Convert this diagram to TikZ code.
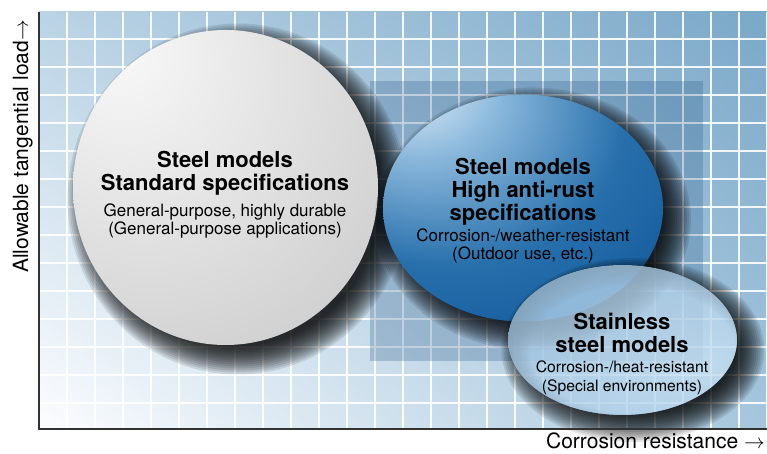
\documentclass[tikz,border=0pt]{standalone}
\usepackage{fontspec}
\setmainfont{TeX Gyre Heros}
\usepackage{tikz}
\usetikzlibrary{positioning, shadings}
\definecolor{bgul}{RGB}{186,211,229}
\definecolor{bgur}{RGB}{122,168,200}
\definecolor{bgll}{RGB}{252,253,255}
\definecolor{bglr}{RGB}{165,198,221}
\definecolor{boxblue}{RGB}{30,80,130}
\definecolor{axisgray}{RGB}{50,50,50}
\definecolor{gsA}{RGB}{250,250,250}
\definecolor{gsB}{RGB}{230,230,230}
\definecolor{gsC}{RGB}{200,200,200}
\definecolor{gsD}{RGB}{168,168,168}
\definecolor{bsA}{RGB}{242,247,252}
\definecolor{bsB}{RGB}{140,185,220}
\definecolor{bsC}{RGB}{40,112,172}
\definecolor{bsD}{RGB}{8,80,148}
\definecolor{bsE}{RGB}{0,66,130}
\definecolor{psA}{RGB}{198,223,241}
\definecolor{psB}{RGB}{172,205,231}
\definecolor{psC}{RGB}{112,163,204}
\pgfdeclareradialshading{graysphere}{\pgfpoint{-19bp}{24bp}}{color(0bp)=(gsA); color(20bp)=(gsB); color(50bp)=(gsC); color(85bp)=(gsD)}
\pgfdeclareradialshading{bluesphere}{\pgfpoint{-22bp}{30bp}}{color(0bp)=(bsA); color(14bp)=(bsB); color(32bp)=(bsC); color(54bp)=(bsD); color(90bp)=(bsE)}
\pgfdeclareradialshading{palesphere}{\pgfpoint{18bp}{-8bp}}{color(0bp)=(psA); color(30bp)=(psB); color(75bp)=(psC)}
\tikzset{
  gridline/.style={white, line width=1.2pt, opacity=0.9},
  shadebox/.style={fill=boxblue, fill opacity=0.25},
  shadowring/.style={black, fill opacity=0.1},
  axisline/.style={axisgray, line width=1.5pt},
  title/.style={font=\bfseries\fontsize{22}{23}\selectfont, align=center, inner sep=0pt},
  desc/.style={font=\fontsize{17}{18.5}\selectfont, align=center, inner sep=0pt},
  smalldesc/.style={font=\fontsize{15.7}{19}\selectfont, align=center, inner sep=0pt},
  axislabel/.style={font=\fontsize{21}{22}\selectfont, inner sep=0pt}
}
\begin{document}
\begin{tikzpicture}[x=1pt, y=1pt]
  \useasboundingbox (0,0) rectangle (767,454);

  % Background and grid
  \shade[upper left=bgul, upper right=bgur, lower left=bgll, lower right=bglr] (39,25) rectangle (767,442);
  \foreach \gx in {67,95,...,767} \draw[gridline] (\gx,25) -- (\gx,442);
  \foreach \gy in {51,79,...,415} \draw[gridline] (39,\gy) -- (767,\gy);
  \fill[shadebox] (370,93) rectangle (703,373);

  % Standard specifications
  \foreach \k in {0,...,14} \fill[shadowring] (238,255) ellipse ({152.5+18-2*\k} and {157.5+18-2*\k});
  \shade[shading=graysphere] (225.5,266.5) ellipse (152.5 and 157.5);

  % High anti-rust specifications
  \foreach \k in {0,...,14} \fill[shadowring] (533,235) ellipse ({140+18-2*\k} and {113.5+18-2*\k});
  \shade[shading=bluesphere] (523,246) ellipse (140 and 113.5);

  % Stainless steel (shadow kept outside the see-through shape)
  \foreach \k in {0,...,14} \fill[shadowring, even odd rule] (633,104) ellipse ({114.5+17-2*\k} and {75+17-2*\k}) (622.5,114) ellipse (114.5 and 75);
  \shade[shading=palesphere, opacity=0.8] (622.5,114) ellipse (114.5 and 75);

  % Labels
  \node[title, anchor=base] (stdtitle) at (225,263) {Steel models\\Standard specifications};
  \node[desc, anchor=base] (stdtext) at (225,219) {General-purpose, highly durable\\(General-purpose applications)};
  \node[title, anchor=base] (rusttitle) at (523,233) {Steel models\\High anti-rust\\specifications};
  \node[desc, anchor=base] (rusttext) at (523,194) {Corrosion-/weather-resistant\\(Outdoor use, etc.)};
  \node[title, anchor=base] (sustitle) at (622,101) {Stainless\\steel models};
  \node[smalldesc, anchor=base] (sustext) at (622,62) {Corrosion-/heat-resistant\\(Special environments)};

  % Axes
  \draw[axisline] (39,442) -- (39,25) -- (767,25);
  \node[axislabel, anchor=base east] (xlabel) at (765,5) {Corrosion resistance $\rightarrow$};
  \node[axislabel, rotate=90, anchor=base east] (ylabel) at (28,434) {Allowable tangential load$\rightarrow$};
\end{tikzpicture}
\end{document}
